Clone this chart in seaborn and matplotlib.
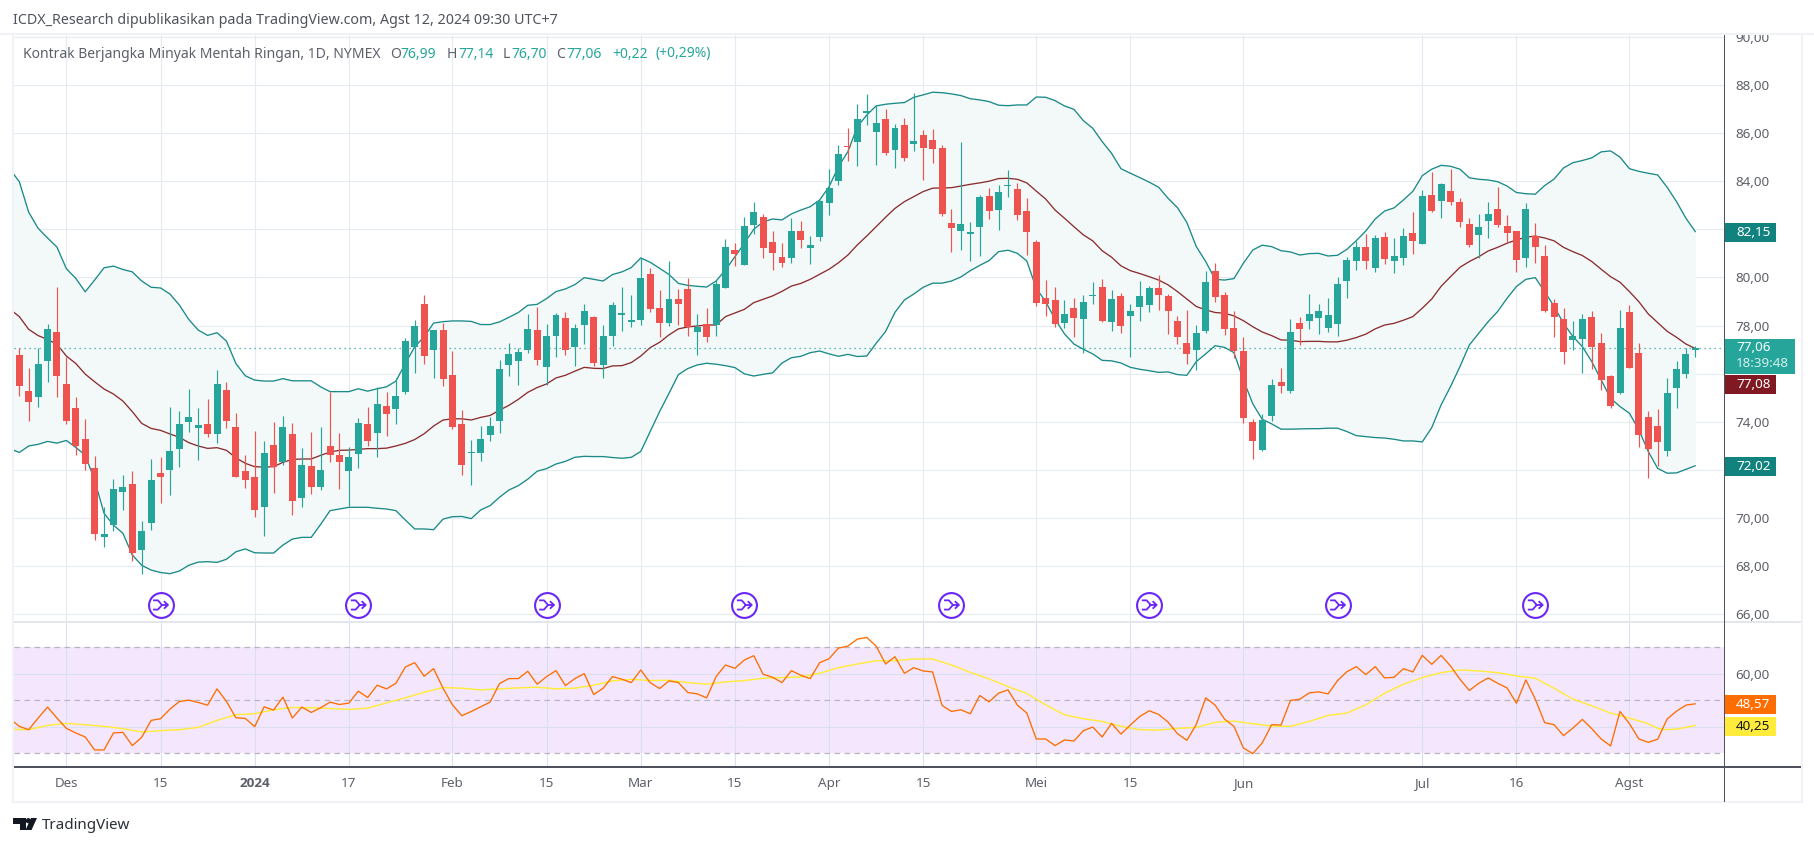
import numpy as np
import pandas as pd
import matplotlib
matplotlib.use("Agg")
import matplotlib.pyplot as plt
import seaborn as sns
from matplotlib.patches import Rectangle, Polygon, Circle
from matplotlib.path import Path

open_px = [76.77,75.27,75.04,76.54,77.73,75.57,74.57,73.28,72.07,69.22,
69.70,71.09,71.41,68.68,69.80,71.87,72.00,72.88,74.00,73.75,
73.90,73.50,75.32,73.78,71.95,71.70,70.47,73.03,72.32,73.49,
70.84,72.16,71.30,72.99,72.61,71.96,72.67,73.90,73.54,74.65,
74.54,75.25,77.12,78.89,76.99,77.81,75.94,73.90,72.71,72.71,
73.46,74.04,76.36,76.53,76.98,77.81,76.28,77.57,78.31,77.11,
78.02,78.36,76.36,77.57,78.44,78.15,78.23,80.14,78.73,78.11,
79.10,79.52,77.73,78.06,78.02,79.56,81.14,80.52,82.18,82.51,
81.47,80.85,80.81,81.93,81.22,81.68,83.10,84.01,85.47,85.63,
86.84,86.05,86.59,85.30,86.34,85.55,85.92,85.72,85.38,82.26,
81.93,81.82,82.10,83.39,82.80,83.80,83.68,82.76,81.47,79.15,
79.06,78.11,78.73,78.27,79.23,79.60,78.15,79.23,78.40,78.77,
78.85,79.56,79.23,78.19,77.27,76.98,77.77,80.27,79.27,77.90,
76.94,73.99,72.83,74.24,75.65,75.28,78.11,78.19,78.31,77.90,
78.07,79.85,80.68,81.27,80.39,81.68,80.68,80.81,81.85,81.39,
83.43,83.18,83.60,83.14,82.22,81.77,82.35,82.85,82.14,81.93,
80.81,81.72,80.89,78.94,78.27,77.40,77.44,78.36,77.28,75.90,
75.20,78.56,76.86,74.20,73.82,72.78,75.40,75.99,76.99]

high_px = [77.05,76.22,77.05,78.06,79.60,76.70,75.03,74.11,72.57,70.44,
71.62,71.78,71.95,69.87,72.45,72.53,74.61,74.44,75.36,74.57,
74.94,76.15,75.65,74.36,72.61,73.61,73.20,73.99,74.24,73.94,
72.90,73.57,73.78,75.23,73.53,72.95,74.15,74.61,75.44,75.23,
75.82,77.48,78.23,79.27,77.81,78.10,76.94,74.48,73.24,73.82,
74.19,76.56,77.27,77.05,78.48,78.77,78.06,78.52,78.56,78.06,
78.90,78.40,78.02,78.98,79.60,79.27,80.81,80.39,79.48,80.68,
79.52,79.98,78.48,78.73,79.89,81.60,81.43,82.51,83.14,82.64,
81.93,81.43,82.47,82.35,81.72,83.22,84.51,85.51,86.21,87.21,
87.63,87.13,87.00,86.38,86.63,87.67,86.13,86.17,85.51,82.85,
85.63,82.31,83.43,83.72,83.84,84.47,83.93,83.30,81.56,79.89,
79.60,79.06,79.15,79.27,79.81,79.94,79.48,79.35,78.90,79.85,
79.64,80.10,79.31,78.40,78.65,78.02,80.27,80.60,79.40,78.61,
77.52,74.12,74.32,75.78,76.24,78.27,78.36,79.31,78.90,79.15,
80.02,80.85,81.52,81.81,81.77,81.89,81.64,82.06,82.72,83.64,
84.39,83.93,84.51,83.30,82.47,82.64,83.14,83.76,82.60,81.93,
83.10,82.26,81.35,79.10,78.73,78.19,78.48,78.61,77.69,75.94,
78.65,78.86,77.28,74.45,74.53,75.82,76.53,77.07,77.14]

low_px = [75.08,74.03,74.62,75.66,75.04,73.92,72.63,71.99,69.09,68.80,
69.47,70.34,68.22,67.68,69.51,70.63,70.96,72.13,73.58,72.42,
73.38,73.13,73.75,71.71,71.26,70.05,69.26,71.05,72.21,70.13,
70.47,71.01,71.17,72.34,71.21,70.49,72.09,73.00,72.54,73.42,
73.92,75.16,76.04,76.41,75.83,75.50,73.71,71.80,71.38,72.38,
73.21,73.54,75.90,75.53,76.86,76.36,75.53,76.69,76.78,76.32,
77.23,76.32,75.82,77.15,77.77,77.94,78.02,78.56,77.52,77.98,
78.02,77.57,76.78,77.32,77.57,79.56,80.48,80.52,81.81,80.81,
80.31,80.43,80.60,81.22,80.56,81.52,82.60,83.84,84.84,84.63,
86.34,84.68,85.09,84.55,84.84,85.26,84.05,84.76,82.56,81.06,
81.14,80.68,80.89,82.43,81.97,83.35,82.39,80.93,78.81,78.40,
77.94,77.90,77.52,76.86,78.90,78.15,77.77,77.69,76.69,78.19,
78.56,78.65,77.65,77.23,76.40,76.15,77.69,78.98,77.61,76.65,
73.95,72.45,72.78,74.03,75.20,75.20,77.19,77.86,77.65,77.73,
77.57,79.15,80.31,80.35,80.23,80.56,80.19,80.52,80.98,81.39,
82.72,82.47,83.01,82.10,81.27,80.81,81.64,82.10,81.43,80.23,
80.44,80.60,78.56,77.52,76.40,76.98,76.03,76.19,75.32,74.57,
75.15,76.24,72.95,71.66,72.16,72.58,74.57,75.82,76.70]

close_px = [75.50,74.83,76.40,77.84,75.91,74.04,73.00,72.25,69.34,69.33,
71.20,71.28,68.55,69.45,71.57,71.71,72.78,73.90,74.19,73.86,
73.50,75.57,74.04,71.71,71.59,70.34,72.70,72.13,73.78,70.71,
72.20,71.30,71.99,72.63,72.34,72.53,73.94,73.21,74.73,74.33,
75.07,77.35,77.98,76.74,77.81,75.79,73.79,72.21,72.74,73.28,
73.82,76.19,76.82,76.90,77.86,76.57,77.57,78.44,76.98,77.90,
78.60,76.44,77.57,78.85,78.52,78.23,79.98,78.69,78.11,79.10,
78.90,77.94,77.94,77.52,79.73,81.27,80.97,82.14,82.72,81.22,
81.02,80.60,81.93,81.56,81.35,83.18,83.72,85.13,85.42,86.59,
86.92,86.42,85.17,86.21,84.97,85.67,85.38,85.34,82.64,82.06,
82.22,81.89,83.35,82.76,83.55,83.86,82.60,81.89,78.95,78.90,
78.06,78.48,78.31,78.98,79.27,78.19,79.10,77.98,78.61,79.23,
79.56,79.27,78.60,77.52,76.82,77.69,79.81,79.19,77.86,76.96,
74.17,73.20,74.07,75.53,75.49,77.73,77.86,78.48,78.61,78.44,
79.73,80.73,81.27,80.68,81.64,80.77,80.89,81.72,81.52,83.39,
82.76,83.89,83.14,82.31,81.35,82.10,82.64,82.18,81.85,80.73,
82.85,81.27,78.61,78.36,76.90,77.57,78.27,77.11,75.74,74.66,
77.90,76.24,73.45,72.87,73.16,75.20,76.19,76.82,77.06]

# Bollinger series start one session before the first visible candle
bb_upper = [84.50,
83.98,82.71,82.04,81.64,81.26,80.36,79.96,79.40,79.89,80.40,
80.47,80.33,80.23,79.85,79.59,79.56,79.31,78.85,78.25,77.81,
77.59,77.70,77.35,76.42,75.91,75.73,75.69,75.69,75.79,75.70,
75.70,75.70,75.45,75.25,75.25,75.25,75.37,75.27,75.37,75.45,
75.69,76.42,77.12,77.53,78.10,78.16,78.19,78.19,78.17,78.04,
78.04,78.15,78.34,78.54,78.84,78.88,79.12,79.41,79.52,79.70,
79.99,79.92,79.85,80.12,80.23,80.41,80.81,80.63,80.38,80.12,
79.75,79.67,79.63,79.60,79.85,80.31,80.86,81.42,82.00,82.31,
82.43,82.39,82.64,82.80,82.94,83.22,83.77,84.61,85.23,86.27,
86.75,87.13,87.20,87.24,87.27,87.49,87.59,87.70,87.68,87.63,
87.56,87.43,87.38,87.31,87.16,87.14,87.17,87.17,87.50,87.49,
87.35,87.13,86.99,86.52,86.20,85.65,85.16,84.52,84.33,84.15,
83.96,83.75,83.29,82.90,82.28,81.28,80.66,79.92,79.89,79.95,
80.59,81.14,81.34,81.28,81.11,81.06,80.93,80.99,81.00,80.89,
80.92,81.17,81.53,81.93,82.43,82.76,82.89,83.22,83.58,84.23,
84.50,84.66,84.62,84.50,84.14,84.08,84.05,83.98,83.80,83.53,
83.48,83.46,83.82,84.09,84.55,84.77,84.86,84.97,85.22,85.26,
85.00,84.52,84.41,84.33,84.26,83.75,83.15,82.46,81.90]

bb_lower = [72.88,
72.72,72.99,73.06,73.18,73.11,73.22,72.93,72.61,71.57,70.19,
69.70,69.36,68.46,68.03,67.83,67.73,67.68,67.79,68.03,68.16,
68.18,68.15,68.28,68.59,68.71,68.55,68.54,68.54,68.87,69.12,
69.19,69.19,69.73,70.30,70.37,70.44,70.44,70.44,70.40,70.37,
70.30,69.91,69.54,69.54,69.51,69.95,70.05,70.06,69.97,70.33,
70.51,70.86,71.16,71.34,71.61,71.94,72.05,72.24,72.35,72.52,
72.56,72.55,72.55,72.51,72.48,72.52,72.76,73.59,74.42,75.18,
75.96,76.21,76.36,76.43,76.39,76.33,76.25,75.99,75.90,75.97,
76.03,76.44,76.66,76.72,76.87,76.94,76.82,76.72,76.80,76.71,
76.73,77.26,77.75,78.55,79.06,79.31,79.59,79.76,79.76,79.85,
80.02,80.28,80.50,80.70,81.07,81.13,81.00,80.68,79.55,78.99,
78.26,77.65,77.23,77.01,76.82,76.55,76.53,76.44,76.26,76.18,
76.12,76.05,76.07,75.96,75.93,76.50,76.82,77.16,77.09,76.87,
75.74,74.74,74.10,73.91,73.69,73.69,73.70,73.71,73.71,73.73,
73.73,73.59,73.42,73.38,73.34,73.32,73.27,73.20,73.20,73.16,
73.75,74.70,75.46,76.29,77.19,77.68,78.16,78.58,79.13,79.62,
79.92,79.99,79.41,78.79,78.09,77.54,77.12,76.50,75.74,74.97,
74.63,74.35,73.66,72.76,72.06,71.86,71.87,72.02,72.17]

bb_basis = [78.68,
78.37,77.84,77.58,77.42,77.22,76.73,76.42,75.98,75.66,75.36,
75.15,74.86,74.42,73.93,73.72,73.64,73.49,73.35,73.13,72.99,
72.89,72.92,72.81,72.50,72.27,72.13,72.11,72.13,72.31,72.43,
72.45,72.45,72.60,72.74,72.81,72.82,72.85,72.88,72.88,72.90,
72.99,73.10,73.26,73.50,73.82,74.07,74.12,74.12,74.07,74.18,
74.26,74.48,74.68,74.93,75.22,75.42,75.57,75.82,75.93,76.10,
76.26,76.22,76.21,76.32,76.33,76.46,76.73,77.08,77.30,77.61,
77.86,77.94,77.98,78.02,78.02,78.37,78.52,78.67,78.95,79.09,
79.23,79.42,79.64,79.75,79.92,80.13,80.34,80.61,80.93,81.35,
81.72,82.11,82.50,82.87,83.15,83.36,83.57,83.71,83.72,83.73,
83.80,83.87,83.93,84.00,84.11,84.12,84.08,83.93,83.59,83.26,
82.80,82.46,82.11,81.77,81.52,81.11,80.84,80.48,80.28,80.16,
80.03,79.89,79.69,79.41,79.10,78.79,78.65,78.54,78.51,78.40,
78.20,77.95,77.73,77.58,77.40,77.39,77.33,77.34,77.34,77.32,
77.32,77.39,77.50,77.64,77.86,78.02,78.09,78.22,78.37,78.72,
79.10,79.63,80.03,80.42,80.66,80.86,81.10,81.25,81.42,81.56,
81.67,81.72,81.64,81.52,81.25,81.07,80.91,80.66,80.34,80.03,
79.80,79.41,78.99,78.48,78.12,77.76,77.51,77.23,77.04]

rsi_vals = [43.00,
40.06,38.80,43.21,47.36,43.21,39.31,37.55,36.04,31.13,31.13,
37.55,37.80,32.77,35.91,42.33,42.96,46.60,49.50,50.00,49.12,
48.11,54.28,49.50,43.33,43.08,39.94,47.48,46.23,51.13,43.21,
47.36,45.34,47.11,49.24,48.36,48.87,53.40,51.01,55.66,54.28,
56.41,62.58,64.21,59.06,61.95,54.53,48.24,44.09,45.72,47.48,
49.24,56.29,58.18,58.18,60.94,56.04,58.93,61.19,55.53,58.18,
60.06,52.14,54.52,58.93,57.92,56.66,61.44,56.66,54.40,57.29,
56.66,52.89,52.38,50.87,58.93,63.33,62.07,65.22,66.85,59.81,
58.67,56.66,61.19,59.43,58.17,64.21,65.72,69.74,70.50,73.14,
73.77,70.50,63.71,66.47,60.18,62.32,61.06,60.69,47.98,45.72,
46.35,44.84,51.76,49.37,52.64,53.89,48.11,45.09,35.28,35.28,
32.76,34.90,34.52,38.42,39.81,36.03,41.19,37.16,40.56,43.83,
45.97,44.59,41.69,37.29,34.77,40.81,50.87,48.11,42.82,40.06,
31.88,29.74,33.77,40.69,40.56,49.87,50.37,52.76,53.14,52.38,
57.42,60.81,62.70,59.68,62.70,58.42,58.67,61.94,60.69,66.98,
63.58,66.98,62.95,57.92,53.64,56.41,58.42,56.41,54.65,48.86,
57.67,50.37,41.44,40.69,36.54,39.43,42.70,39.18,35.28,32.64,
45.72,41.06,35.28,34.02,35.15,42.82,45.84,48.11,48.61]

# RSI moving average, read every second session
rsi_ma_sessions = [-1] + list(range(1, 174, 2)) + [174, 175, 176, 177, 178]
rsi_ma_vals = [38.93,
38.80,40.44,41.19,40.69,40.06,39.18,37.92,38.43,38.80,39.68,42.33,44.46,44.84,46.35,47.23,47.11,
46.85,46.48,46.98,48.99,50.88,53.02,54.78,54.53,53.90,54.28,54.65,54.91,54.28,54.53,55.66,
57.29,57.92,57.42,57.54,56.66,56.03,56.91,57.42,58.30,58.55,58.80,60.18,62.32,63.71,64.96,64.96,
65.59,65.59,63.33,60.56,58.05,55.15,52.51,48.23,44.46,42.95,41.94,40.06,38.80,38.67,39.30,39.68,
41.57,42.07,41.06,40.18,40.06,41.94,44.21,45.09,48.23,52.64,56.03,58.55,60.43,61.44,61.06,60.43,
59.18,58.30,54.52,50.37,47.86,45.09,43.20,41.06,
39.30,38.80,39.05,39.68,40.43]

tick_sessions = [5,15,25,35,46,56,66,76,86,96,108,118,130,149,159,171]
tick_labels = ["Des","15","2024","17","Feb","15","Mar","15","Apr","15","Mei","15","Jun","Jul","16","Agst"]
rollover_sessions = [15,36,56,77,99,120,140,161]
rollover_level = 66.38
price_ticks = list(range(66, 91, 2))
price_ticks_under_tags = [72, 76, 82]
rsi_ticks = [40, 60]
rsi_ticks_under_tags = [40]
rsi_levels = [30, 50, 70]
last_close = 77.06

W, H = 1814, 846
UP, DOWN = "#26a69a", "#ef5350"
TEAL, MAROON = "#1a8a88", "#8b2d2f"
GRID, GREY = "#e4ebf2", "#5d606b"
AXIS = "#50535e"
PURPLE = "#6a26f5"

sns.set_theme(style="white")
plt.rcParams["font.family"] = ["Noto Sans", "DejaVu Sans"]
plt.rcParams["axes.unicode_minus"] = False

fig = plt.figure(figsize=(W/100, H/100), dpi=100, facecolor="white")

def axes_px(x0, y0, x1, y1):
    return fig.add_axes([x0/W, 1-y1/H, (x1-x0)/W, (y1-y0)/H])

def rect(x0, y0, x1, y1, color, z=10):
    fig.add_artist(Rectangle((x0/W, 1-y1/H), (x1-x0)/W, (y1-y0)/H, transform=fig.transFigure,
                             facecolor=color, edgecolor="none", zorder=z))

def label(x, y, s, color=GREY, size=9.7, ha="left", weight="normal", z=12, alpha=None, **kw):
    fig.text(x/W, 1-y/H, s, color=color, fontsize=size, ha=ha, va="center",
             fontweight=weight, zorder=z, alpha=alpha, **kw)

fmt = lambda v: f"{v:.2f}".replace(".", ",")

sessions = np.arange(len(close_px))
series_sessions = np.arange(-1, len(close_px))
xlim = ((13.5-19.3)/9.416, (1724-19.3)/9.416)

# ---------- price pane ----------
ax = axes_px(13.5, 35, 1724, 622)
ax.set_xlim(*xlim)
ax.set_ylim(88-(622-85)/24.05, 88+(85-35)/24.05)
ax.fill_between(series_sessions, bb_lower, bb_upper, color="#f3f9f9", lw=0, zorder=1)
bands = pd.DataFrame({"session": series_sessions, "upper": bb_upper, "lower": bb_lower, "basis": bb_basis})
for col, c in (("upper", TEAL), ("lower", TEAL), ("basis", MAROON)):
    sns.lineplot(data=bands, x="session", y=col, ax=ax, color=c, linewidth=0.95,
                 estimator=None, sort=False, legend=False, zorder=2)
ax.axhline(last_close, color=UP, lw=0.9, ls=(0, (1, 3)), zorder=2.5)

o, h, l, c = map(np.array, (open_px, high_px, low_px, close_px))
colors = np.where(c >= o, UP, DOWN)
ax.vlines(sessions, l, h, colors=colors, lw=0.85, zorder=3)
ax.bar(sessions, np.maximum(np.abs(c-o), 0.05), bottom=np.minimum(o, c), width=0.74,
       color=colors, linewidth=0, zorder=3.5)

arrow = Path([(-1,.62),(-.35,.62),(.2,0),(1,0),(.45,.5),(1,0),(.45,-.5),(-1,-.62),(-.35,-.62),(.2,0)],
             [Path.MOVETO,Path.LINETO,Path.LINETO,Path.LINETO,Path.MOVETO,Path.LINETO,Path.LINETO,
              Path.MOVETO,Path.LINETO,Path.LINETO])
roll_y = [rollover_level]*len(rollover_sessions)
ax.scatter(rollover_sessions, roll_y, s=320, facecolors="white", edgecolors=PURPLE, linewidths=1.5, zorder=5)
ax.scatter(rollover_sessions, roll_y, s=115, marker=arrow, facecolors="none", edgecolors=PURPLE, linewidths=1.3, zorder=6)

ax.set_xticks(tick_sessions); ax.set_xticklabels([])
ax.set_yticks(price_ticks)
ax.set_yticklabels(["" if v in price_ticks_under_tags else fmt(v) for v in price_ticks])
ax.yaxis.tick_right()
ax.grid(True, color=GRID, lw=0.8, zorder=0); ax.set_axisbelow(True)
ax.tick_params(axis="both", length=0, colors=GREY, labelsize=9.7)
ax.tick_params(axis="y", pad=8)
ax.set_xlabel(""); ax.set_ylabel("")
for s in ax.spines.values(): s.set_visible(False)

# ---------- RSI pane ----------
ax2 = axes_px(13.5, 622, 1724, 767)
ax2.set_xlim(*xlim)
ax2.set_ylim(70-(767-647.4)/2.6375, 70+(647.4-622)/2.6375)
ax2.axhspan(rsi_levels[0], rsi_levels[2], color="#f4e7fd", lw=0, zorder=0.5)
for v in rsi_levels:
    ax2.axhline(v, color="#b9b5c0", lw=0.9, ls=(0, (4.5, 3.5)), zorder=1.5)
sns.lineplot(x=rsi_ma_sessions, y=rsi_ma_vals, ax=ax2, color="#ffeb3b", linewidth=1.05,
             estimator=None, sort=False, legend=False, zorder=3)
sns.lineplot(x=series_sessions, y=rsi_vals, ax=ax2, color="#ff6d00", linewidth=0.95,
             estimator=None, sort=False, legend=False, zorder=4)
ax2.set_xticks(tick_sessions); ax2.set_xticklabels(tick_labels)
ax2.set_yticks(rsi_ticks)
ax2.set_yticklabels(["" if v in rsi_ticks_under_tags else fmt(v) for v in rsi_ticks])
ax2.yaxis.tick_right()
ax2.grid(True, color="#dcdff0", lw=0.8, zorder=1); ax2.set_axisbelow(True)
ax2.tick_params(axis="both", length=0, colors=GREY, labelsize=9.7)
ax2.tick_params(axis="y", pad=8)
ax2.tick_params(axis="x", pad=7.5)
ax2.set_xlabel(""); ax2.set_ylabel("")
for t, s in zip(ax2.get_xticklabels(), tick_labels):
    if s == "2024":
        t.set_family(["Open Sans", "DejaVu Sans"])
        t.set_fontweight("bold")
for s in ax2.spines.values(): s.set_visible(False)

# ---------- frame ----------
rect(0, 0, W, 33, "white", 8)
rect(0, 33, W, 35.5, "#f0f2f8", 9)
rect(11.5, 33, 13.8, 802.5, "#f0f2f8", 9)
rect(1800.5, 33, 1803, 802.5, "#f0f2f8", 9)
rect(11.5, 800.5, 1803, 802.5, "#f0f2f8", 9)
rect(13.5, 621.2, 1801, 622.8, "#e4e6ee", 9)
rect(13.5, 766.4, 1801, 767.6, AXIS, 9)
rect(1723.5, 35, 1724.8, 802, AXIS, 9.5)

# ---------- price tags ----------
rect(1724.5, 223, 1776, 242, "#12827f"); label(1736, 232, "82,15", "white", weight="medium")
rect(1724.5, 339, 1795, 374, UP)
label(1736, 347.5, "77,06", "white", weight="medium")
label(1736, 363.5, "18:39:48", "white", alpha=0.8)
rect(1724.5, 375, 1776, 394, "#801922"); label(1736, 384, "77,08", "white", weight="medium")
rect(1724.5, 457, 1776, 476, "#12827f"); label(1736, 466, "72,02", "white", weight="medium")
rect(1724.5, 695, 1776, 714, "#ff6d00"); label(1736, 704, "48,57", "white", weight="medium")
rect(1724.5, 717, 1776, 736, "#ffeb3b"); label(1736, 726, "40,25", "#131722", weight="medium")

# ---------- headers ----------
label(13, 20, "ICDX_Research dipublikasikan pada TradingView.com, Agst 12, 2024 09:30 UTC+7", "#50535e", size=10.25)
label(23, 54, "Kontrak Berjangka Minyak Mentah Ringan, 1D, NYMEX", GREY, size=10.05)
for x, s, col in ((390, "O", GREY), (400, "76,99", UP), (447, "H", GREY), (458, "77,14", UP),
                  (503, "L", GREY), (511, "76,70", UP), (556, "C", GREY), (566, "77,06", UP),
                  (612, "+0,22", UP), (655, "(+0,29%)", UP)):
    label(x, 54, s, col, size=10.05)

# ---------- TradingView mark ----------
fig.add_artist(Polygon([(13/W,1-818/H),(25.5/W,1-818/H),(25.5/W,1-830/H),(19.5/W,1-830/H),(19.5/W,1-823.5/H),(13/W,1-823.5/H)],
                       transform=fig.transFigure, facecolor="#131722", edgecolor="none", zorder=12))
fig.add_artist(Polygon([(31/W,1-818/H),(37/W,1-818/H),(31.5/W,1-830/H),(25.5/W,1-830/H)],
                       transform=fig.transFigure, facecolor="#131722", edgecolor="none", zorder=12))
dot = Circle((28.3, H-820.7), 2.6, transform=None, facecolor="#131722", edgecolor="none", zorder=12)
fig.add_artist(dot)
label(42, 825, "TradingView", "#2a2e39", size=10.9)

fig.savefig("out.png", dpi=100, facecolor="white")
